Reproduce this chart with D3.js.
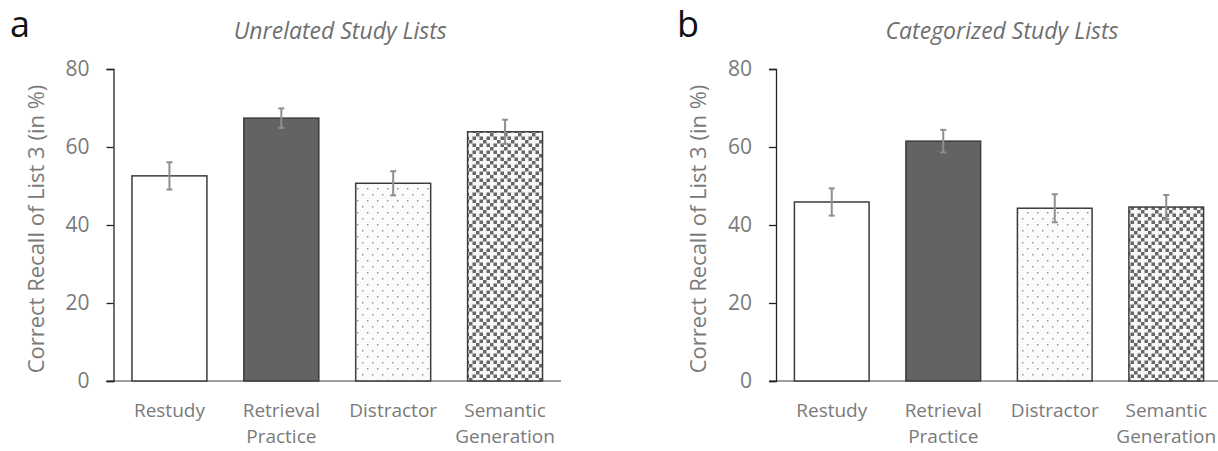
<!DOCTYPE html>
<html>
<head>
<meta charset="utf-8">
<script src="https://cdn.jsdelivr.net/npm/d3@7"></script>
<style>
  body { margin: 0; background: #fff; }
  svg text { font-family: "Open Sans", "Noto Sans", sans-serif; }
</style>
</head>
<body>
<svg id="chart" width="1218" height="451"></svg>
<script>
const categories = ["Restudy", "Retrieval Practice", "Distractor", "Semantic Generation"];
const categoryLines = [["Restudy"], ["Retrieval", "Practice"], ["Distractor"], ["Semantic", "Generation"]];
const unrelatedMeans = [52.6, 67.4, 50.7, 63.9];
const unrelatedErrors = [3.5, 2.5, 3.1, 3.1];
const categorizedMeans = [45.9, 61.5, 44.3, 44.6];
const categorizedErrors = [3.5, 2.9, 3.6, 3.1];
const yTicks = [0, 20, 40, 60, 80];
const panelTitles = ["Unrelated Study Lists", "Categorized Study Lists"];
const panelLetters = ["a", "b"];
const yTitle = "Correct Recall of List 3 (in %)";

const svg = d3.select("#chart");
const defs = svg.append("defs");

// dotted fill (Distractor)
const dots = defs.append("pattern")
  .attr("id", "dots")
  .attr("patternUnits", "userSpaceOnUse")
  .attr("width", 10)
  .attr("height", 12);
dots.append("rect").attr("width", 10).attr("height", 12).attr("fill", "#fbfbfb");
dots.append("rect").attr("x", 2).attr("y", 2).attr("width", 1.4).attr("height", 1.4).attr("fill", "#8a8a8a");
dots.append("rect").attr("x", 7).attr("y", 8).attr("width", 1.4).attr("height", 1.4).attr("fill", "#8a8a8a");

// checkerboard with white crosses (Semantic Generation)
const cell = 3.5;
const checker = defs.append("pattern")
  .attr("id", "checker")
  .attr("patternUnits", "userSpaceOnUse")
  .attr("width", cell * 4)
  .attr("height", cell * 4);
checker.append("rect").attr("width", cell * 4).attr("height", cell * 4).attr("fill", "#f7f7f7");
d3.range(4).forEach((i) => {
  d3.range(4).forEach((j) => {
    if ((i + j) % 2 === 0 && !(i === 0 && j === 0) && !(i === 2 && j === 2)) {
      checker.append("rect")
        .attr("x", i * cell).attr("y", j * cell)
        .attr("width", cell).attr("height", cell)
        .attr("fill", "#666666");
    }
  });
});

const fills = ["#ffffff", "#636363", "url(#dots)", "url(#checker)"];

const y = d3.scaleLinear().domain([0, 80]).range([381, 69]);

const drawPanel = (xRange, means, errors, title, letter, letterX) => {
  const x = d3.scaleBand()
    .domain(categories)
    .range(xRange)
    .paddingInner(0.33)
    .paddingOuter(0.165);
  const axisX = xRange[0];
  const g = svg.append("g");

  // baseline
  g.append("line")
    .attr("x1", axisX - 7).attr("x2", xRange[1])
    .attr("y1", y(0)).attr("y2", y(0))
    .attr("stroke", "#7f7f7f").attr("stroke-width", 1.5);

  const yAxis = d3.axisLeft(y).tickValues(yTicks).tickSize(7).tickPadding(17);
  const yg = g.append("g")
    .attr("transform", `translate(${axisX},0)`)
    .call(yAxis);
  yg.select(".domain").attr("stroke", "#222").attr("stroke-width", 1.3);
  yg.selectAll(".tick line").attr("stroke", "#222").attr("stroke-width", 1.3);
  yg.selectAll(".tick text")
    .attr("fill", "#7a7a7a")
    .style("font-size", "21px");

  // bars
  g.selectAll("rect.bar")
    .data(categories)
    .enter()
    .append("rect")
    .attr("class", "bar")
    .attr("x", (d) => x(d))
    .attr("width", x.bandwidth())
    .attr("y", (d, i) => y(means[i]))
    .attr("height", (d, i) => y(0) - y(means[i]))
    .attr("fill", (d, i) => fills[i])
    .attr("stroke", "#3c3c3c")
    .attr("stroke-width", 1.5);

  // error bars
  const err = g.selectAll("g.err")
    .data(categories)
    .enter()
    .append("g")
    .attr("class", "err")
    .attr("stroke", "#8f8f8f")
    .attr("stroke-width", 2);
  const cx = (d) => x(d) + x.bandwidth() / 2;
  err.append("line")
    .attr("x1", cx).attr("x2", cx)
    .attr("y1", (d, i) => y(means[i] + errors[i]))
    .attr("y2", (d, i) => y(means[i] - errors[i]));
  [1, -1].forEach((s) => {
    err.append("line")
      .attr("x1", (d) => cx(d) - 3).attr("x2", (d) => cx(d) + 3)
      .attr("y1", (d, i) => y(means[i] + s * errors[i]))
      .attr("y2", (d, i) => y(means[i] + s * errors[i]));
  });

  // category labels, one text per line
  const xAxis = d3.axisBottom(x).tickSize(0).tickFormat("");
  const xg = g.append("g")
    .attr("transform", `translate(0,${y(0)})`)
    .call(xAxis);
  xg.select(".domain").remove();
  xg.selectAll(".tick").selectAll("text.cat")
    .data((d) => categoryLines[categories.indexOf(d)])
    .enter()
    .append("text")
    .attr("class", "cat")
    .attr("fill", "#7a7a7a")
    .attr("text-anchor", "middle")
    .style("font-size", "19px")
    .attr("x", 0)
    .attr("y", (d, i) => 36 + i * 26)
    .text((d) => d);

  // y title
  g.append("text")
    .attr("transform", `translate(${axisX - 70},${(y(0) + y(80)) / 2 + 4}) rotate(-90)`)
    .attr("text-anchor", "middle")
    .attr("fill", "#7a7a7a")
    .style("font-size", "22px")
    .text(yTitle);

  // panel title
  g.append("text")
    .attr("x", (xRange[0] + xRange[1]) / 2 + 3)
    .attr("y", 39)
    .attr("text-anchor", "middle")
    .attr("fill", "#6f6f6f")
    .style("font-size", "23px")
    .style("font-style", "italic")
    .text(title);

  // panel letter
  g.append("text")
    .attr("x", letterX)
    .attr("y", 37)
    .attr("fill", "#111")
    .style("font-size", "36px")
    .text(letter);
};

drawPanel([113.5, 561], unrelatedMeans, unrelatedErrors, panelTitles[0], panelLetters[0], 10);
drawPanel([776, 1222], categorizedMeans, categorizedErrors, panelTitles[1], panelLetters[1], 677);
</script>
</body>
</html>
